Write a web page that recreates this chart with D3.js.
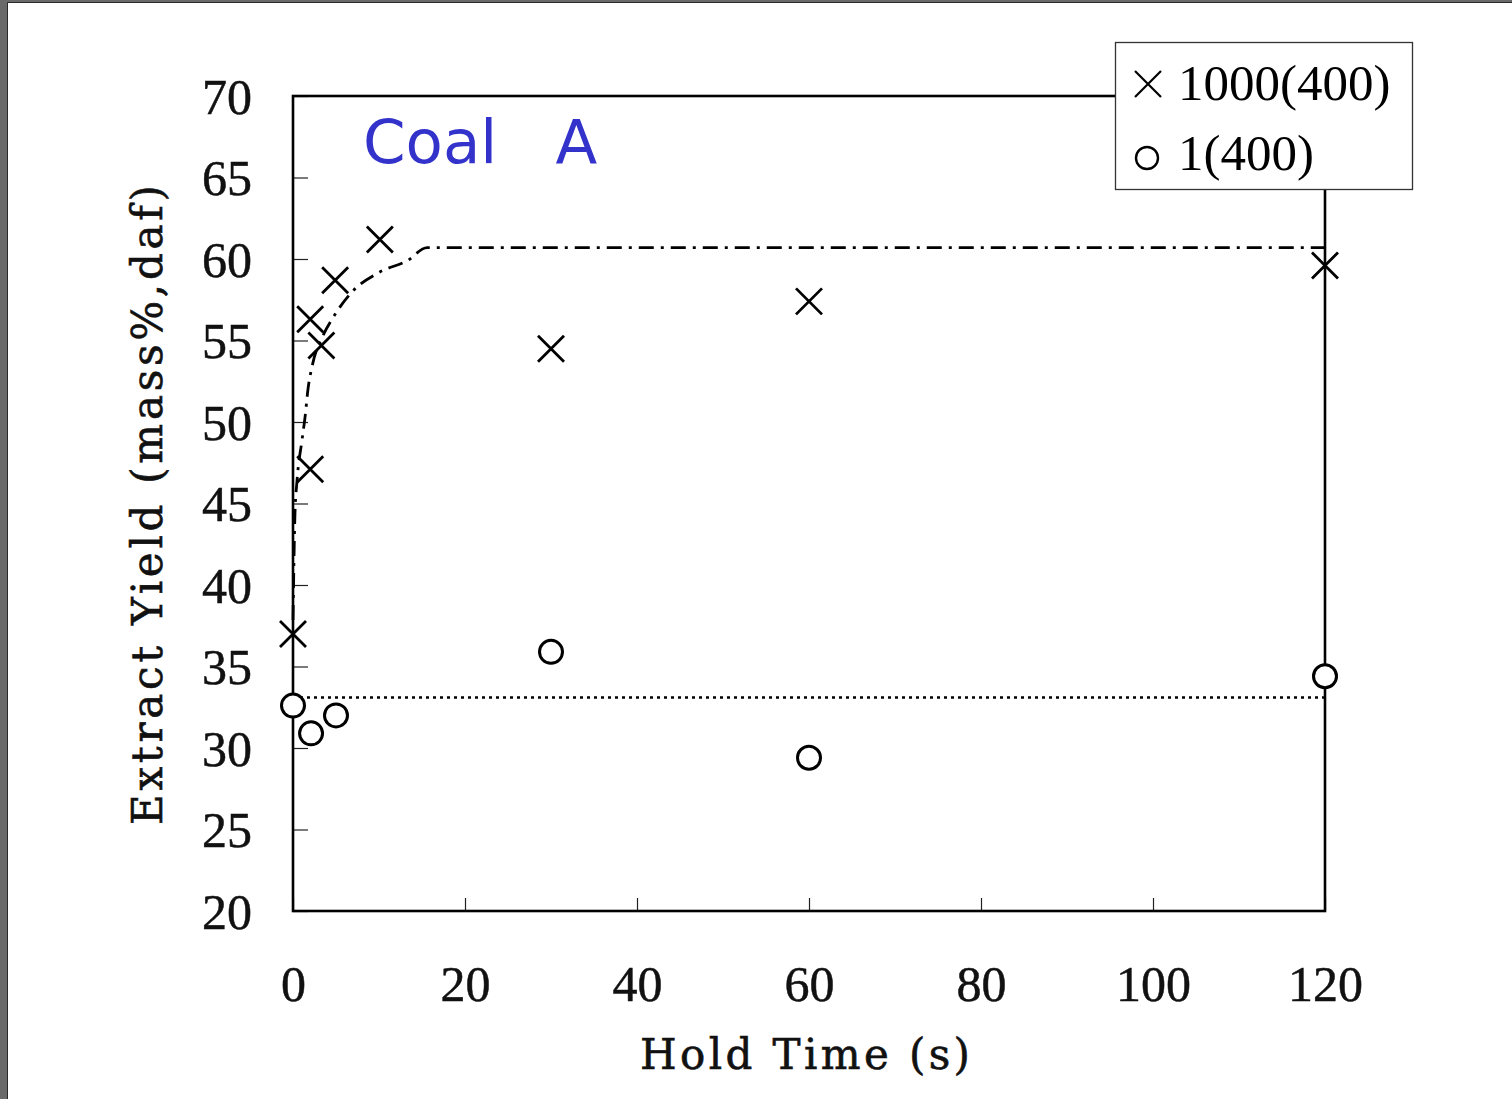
<!DOCTYPE html>
<html>
<head>
    <script src="https://d3js.org/d3.v7.min.js" charset="utf-8"></script>
    <style type="text/css">
        body { margin: 0; }
        .tick text { font-family: "Liberation Serif", serif; font-size: 50px; fill: #111; stroke: #111; stroke-width: 0.5; }
        .tick line { stroke: #222; stroke-width: 1.2; }
        .lbl { font-family: "DejaVu Serif", serif; font-size: 42px; fill: #111; stroke: #111; stroke-width: 0.6; }
    </style>
</head>
<body>

<svg height="1099" width="1512"></svg>

<script>
    // hold time (s) and extract yield
    var crossT = [0, 2, 2, 3.3, 4.9, 10.1, 30, 60, 120];
    var crossY = [37.0, 47.1, 56.3, 54.7, 58.7, 61.2, 54.5, 57.4, 59.6];
    var circleT = [0, 2.1, 5, 30, 60, 120];
    var circleY = [32.6, 30.9, 32.0, 35.9, 29.4, 34.4];
    // dash-dot guide curve for the 1000(400) points
    var fitT = [0, 0.23, 0.47, 1.05, 1.4, 1.74, 2.3, 3.4, 4.65, 6.9, 10.1, 13.3, 15.6, 120];
    var fitY = [37.85, 44.4, 46.4, 48.9, 50.3, 52.0, 53.6, 55.2, 56.4, 58.0, 59.2, 59.9, 60.7, 60.7];
    // dotted level for 1(400)
    var lowT = [0, 120];
    var lowY = [33.1, 33.1];

    var xTicks = [0, 20, 40, 60, 80, 100, 120];
    var yTicks = [20, 25, 30, 35, 40, 45, 50, 55, 60, 65, 70];
    var legendLabels = ["1000(400)", "1(400)"];

    var svg = d3.select("svg");

    // grey window edge
    svg.append("rect").attr("width", 1512).attr("height", 1099).attr("fill", "#6a6a6a");
    svg.append("rect").attr("x", 8).attr("y", 3).attr("width", 1504).attr("height", 1096).attr("fill", "#fff");
    svg.append("path").attr("d", "M7.5,1099V2.5H1512").attr("fill", "none").attr("stroke", "#2a2a2a");

    var plot = {left: 293, top: 96, right: 1325, bottom: 911};

    var x = d3.scaleLinear().domain([0, 120]).range([plot.left, plot.right]);
    var y = d3.scaleLinear().domain([20, 70]).range([plot.bottom, plot.top]);

    // axes, ticks pointing inwards
    var gx = svg.append("g")
        .attr("transform", "translate(0," + plot.bottom + ")")
        .call(d3.axisBottom(x).tickValues(xTicks).tickSizeInner(-13).tickSizeOuter(0));
    gx.select(".domain").remove();
    gx.selectAll("text").attr("y", 90).attr("dy", 0);

    var gy = svg.append("g")
        .attr("transform", "translate(" + plot.left + ",0)")
        .call(d3.axisLeft(y).tickValues(yTicks).tickSizeInner(-15).tickSizeOuter(0).tickPadding(41));
    gy.select(".domain").remove();
    gy.selectAll("text").attr("dy", "0.34em");

    // frame
    svg.append("rect")
        .attr("x", plot.left).attr("y", plot.top)
        .attr("width", plot.right - plot.left).attr("height", plot.bottom - plot.top)
        .attr("fill", "none").attr("stroke", "#000").attr("stroke-width", 2.6);

    // lines
    var line = d3.line()
        .x(function(d) { return x(d[0]); })
        .y(function(d) { return y(d[1]); });

    svg.append("path")
        .datum(fitT.map(function(t, i) { return [t, fitY[i]]; }))
        .attr("d", line.curve(d3.curveMonotoneX))
        .attr("fill", "none").attr("stroke", "#000").attr("stroke-width", 2.8)
        .attr("stroke-dasharray", "15,7,3,7");

    svg.append("path")
        .datum(lowT.map(function(t, i) { return [t, lowY[i]]; }))
        .attr("d", line.curve(d3.curveLinear))
        .attr("fill", "none").attr("stroke", "#000").attr("stroke-width", 2.6)
        .attr("stroke-dasharray", "3,4");

    // markers
    var cross = function(s) {
        return "M" + (-s) + "," + (-s) + "L" + s + "," + s + "M" + (-s) + "," + s + "L" + s + "," + (-s);
    };

    svg.append("g").selectAll("path")
        .data(crossT.map(function(t, i) { return [t, crossY[i]]; }))
        .enter().append("path")
        .attr("transform", function(d) { return "translate(" + x(d[0]) + "," + y(d[1]) + ")"; })
        .attr("d", cross(13))
        .attr("fill", "none").attr("stroke", "#000").attr("stroke-width", 2.8);

    svg.append("g").selectAll("circle")
        .data(circleT.map(function(t, i) { return [t, circleY[i]]; }))
        .enter().append("circle")
        .attr("cx", function(d) { return x(d[0]); })
        .attr("cy", function(d) { return y(d[1]); })
        .attr("r", 11.5)
        .attr("fill", "#fff").attr("stroke", "#000").attr("stroke-width", 3);

    // title
    svg.append("text")
        .attr("x", 363).attr("y", 163)
        .attr("font-family", "DejaVu Sans, sans-serif")
        .attr("font-size", "61px")
        .attr("fill", "#3333cc")
        .style("white-space", "pre")
        .text("Coal   A");

    // axis labels
    svg.append("text")
        .attr("class", "lbl")
        .attr("x", 805).attr("y", 1069)
        .attr("text-anchor", "middle")
        .attr("textLength", 330).attr("lengthAdjust", "spacing")
        .text("Hold Time (s)");

    svg.append("text")
        .attr("class", "lbl")
        .attr("transform", "translate(162,505) rotate(-90)")
        .attr("text-anchor", "middle")
        .attr("textLength", 640).attr("lengthAdjust", "spacing")
        .text("Extract Yield (mass%,daf)");

    // legend
    var lg = svg.append("g");
    lg.append("rect")
        .attr("x", 1115.5).attr("y", 42.5).attr("width", 297).attr("height", 147)
        .attr("fill", "#fff").attr("stroke", "#333").attr("stroke-width", 1.3);
    lg.append("path")
        .attr("transform", "translate(1148,84)")
        .attr("d", cross(13))
        .attr("fill", "none").attr("stroke", "#000").attr("stroke-width", 2.2);
    lg.append("circle")
        .attr("cx", 1147).attr("cy", 158).attr("r", 11)
        .attr("fill", "#fff").attr("stroke", "#000").attr("stroke-width", 2.4);
    lg.selectAll(".lt")
        .data(legendLabels)
        .enter().append("text")
        .attr("class", "lt")
        .attr("x", 1178)
        .attr("y", function(d, i) { return 100 + i * 70; })
        .attr("font-family", "Liberation Serif, serif")
        .attr("font-size", "51px")
        .text(function(d) { return d; });
</script>
</body>
</html>
